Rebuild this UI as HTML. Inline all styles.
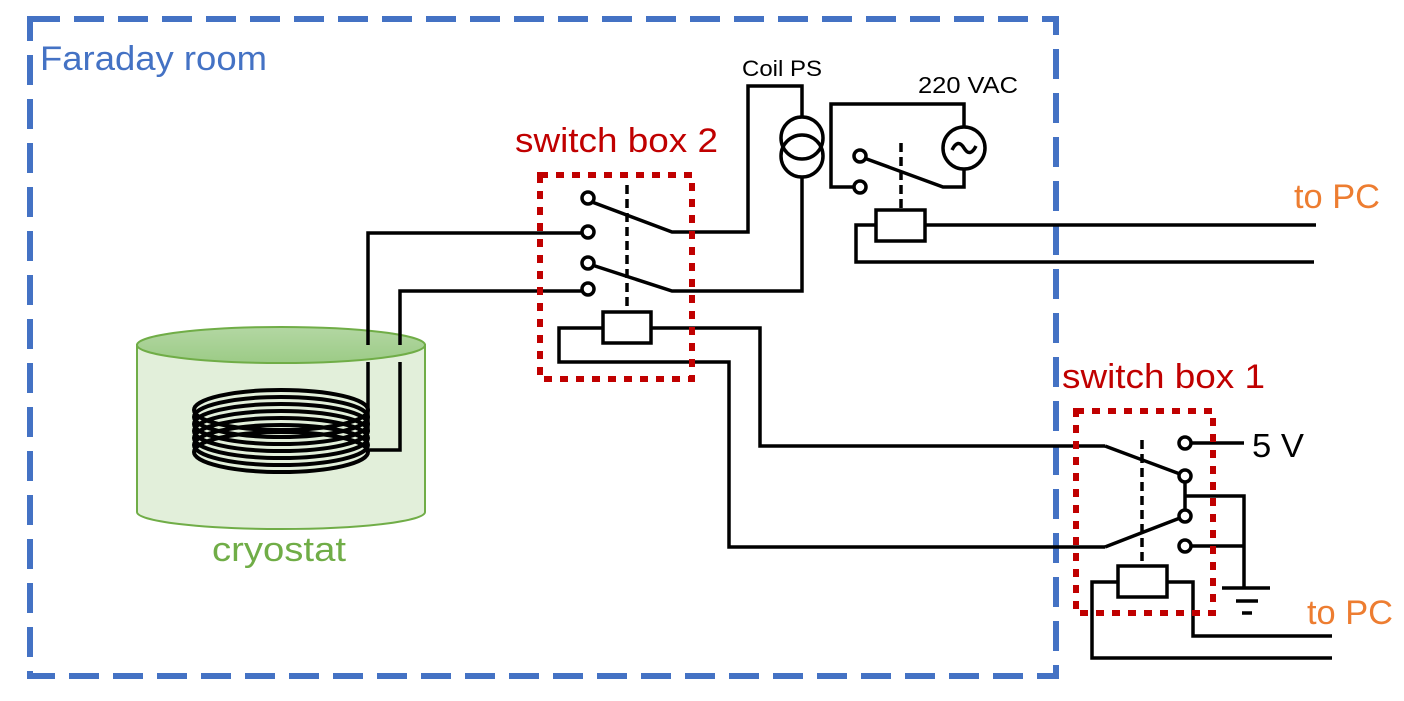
<!DOCTYPE html>
<html><head><style>html,body{margin:0;padding:0;background:#fff}svg{display:block}</style></head><body>
<svg width="1404" height="701" viewBox="0 0 1404 701" xmlns="http://www.w3.org/2000/svg" font-family="Liberation Sans, sans-serif">
<defs><linearGradient id="g" x1="0" y1="0" x2="0" y2="1"><stop offset="0" stop-color="#b3d7a3"/><stop offset="1" stop-color="#9ccb86"/></linearGradient></defs>
<rect x="30" y="19" width="1026" height="657" fill="none" stroke="#4472C4" stroke-width="6" stroke-dasharray="30,14"/>
<path d="M137 345 L137 512 A144 17 0 0 0 425 512 L425 345 Z" fill="#e2efda" stroke="#70AD47" stroke-width="2"/>
<ellipse cx="281" cy="345" rx="144" ry="18" fill="url(#g)" stroke="#70AD47" stroke-width="2"/>
<g fill="none" stroke="#000" stroke-width="4">
<ellipse cx="281" cy="410" rx="87" ry="20"/><ellipse cx="281" cy="417" rx="87" ry="20"/><ellipse cx="281" cy="424" rx="87" ry="20"/><ellipse cx="281" cy="431" rx="87" ry="20"/><ellipse cx="281" cy="438" rx="87" ry="20"/><ellipse cx="281" cy="445" rx="87" ry="20"/><ellipse cx="281" cy="452" rx="87" ry="20"/>
</g>
<g fill="none" stroke="#000" stroke-width="3.5">
<polyline points="368,345 368,233 582,233"/>
<line x1="368" y1="362" x2="368" y2="432"/>
<polyline points="400,345 400,291 582,291"/>
<polyline points="400,362 400,450 368,450"/>
<polyline points="592,202 672,232 748,232 748,86 802,86 802,117"/>
<circle cx="802" cy="138" r="21"/><circle cx="802" cy="156" r="21"/>
<polyline points="802,177 802,291 672,291 592,265"/>
<line x1="627" y1="185" x2="627" y2="312" stroke-dasharray="9,5"/>
<rect x="603" y="312" width="48" height="31" fill="#fff"/>
<polyline points="603,328 559,328 559,362 729,362 729,547 1105,547"/>
<polyline points="651,328 760,328 760,446 1105,446"/>
<circle cx="964" cy="148" r="21"/>
<path d="M952 150 Q958 138 964 148 Q970 158 976 146"/>
<polyline points="964,127 964,104 831,104 831,187 854,187"/>
<polyline points="864,158 943,187 964,187 964,169"/>
<line x1="901" y1="143" x2="901" y2="210" stroke-dasharray="9,5"/>
<rect x="876" y="210" width="49" height="31" fill="#fff"/>
<polyline points="925,225 1316,225"/>
<polyline points="876,225 856,225 856,262 1314,262"/>
<line x1="1191" y1="443" x2="1244" y2="443"/>
<polyline points="1105,446 1180,474"/>
<polyline points="1105,547 1180,518"/>
<line x1="1185" y1="482" x2="1185" y2="510"/>
<polyline points="1185,496 1244,496 1244,588"/>
<line x1="1191" y1="546" x2="1244" y2="546"/>
<line x1="1222" y1="588" x2="1270" y2="588"/>
<line x1="1236" y1="601" x2="1258" y2="601"/>
<line x1="1242" y1="613" x2="1252" y2="613"/>
<line x1="1142" y1="440" x2="1142" y2="566" stroke-dasharray="9,5"/>
<rect x="1118" y="566" width="49" height="31" fill="#fff"/>
<polyline points="1118,582 1092,582 1092,658 1332,658"/>
<polyline points="1167,582 1193,582 1193,636 1332,636"/>
</g>
<g fill="#fff" stroke="#000" stroke-width="3.5">
<circle cx="588" cy="198" r="6"/><circle cx="588" cy="232" r="6"/><circle cx="588" cy="263" r="6"/><circle cx="588" cy="289" r="6"/>
<circle cx="860" cy="156" r="6"/><circle cx="860" cy="187" r="6"/>
<circle cx="1185" cy="443" r="6"/><circle cx="1185" cy="476" r="6"/><circle cx="1185" cy="516" r="6"/><circle cx="1185" cy="546" r="6"/>
</g>
<rect x="540" y="175" width="152" height="204" fill="none" stroke="#C00000" stroke-width="6" stroke-dasharray="8,8"/>
<rect x="1076" y="411" width="137" height="202" fill="none" stroke="#C00000" stroke-width="6" stroke-dasharray="8,8"/>
<text x="40" y="70" font-size="34" fill="#4472C4" textLength="227" lengthAdjust="spacingAndGlyphs">Faraday room</text>
<text x="515" y="152" font-size="34" fill="#C00000" textLength="203" lengthAdjust="spacingAndGlyphs">switch box 2</text>
<text x="1062" y="388" font-size="34" fill="#C00000" textLength="203" lengthAdjust="spacingAndGlyphs">switch box 1</text>
<text x="742" y="76" font-size="22" fill="#000" textLength="80" lengthAdjust="spacingAndGlyphs">Coil PS</text>
<text x="918" y="93" font-size="23" fill="#000" textLength="100" lengthAdjust="spacingAndGlyphs">220 VAC</text>
<text x="1294" y="208" font-size="34" fill="#ED7D31" textLength="86" lengthAdjust="spacingAndGlyphs">to PC</text>
<text x="1307" y="624" font-size="34" fill="#ED7D31" textLength="86" lengthAdjust="spacingAndGlyphs">to PC</text>
<text x="1252" y="457" font-size="33" fill="#000" textLength="52" lengthAdjust="spacingAndGlyphs">5 V</text>
<text x="212" y="561" font-size="34" fill="#70AD47" textLength="134" lengthAdjust="spacingAndGlyphs">cryostat</text>
</svg>
</body></html>
